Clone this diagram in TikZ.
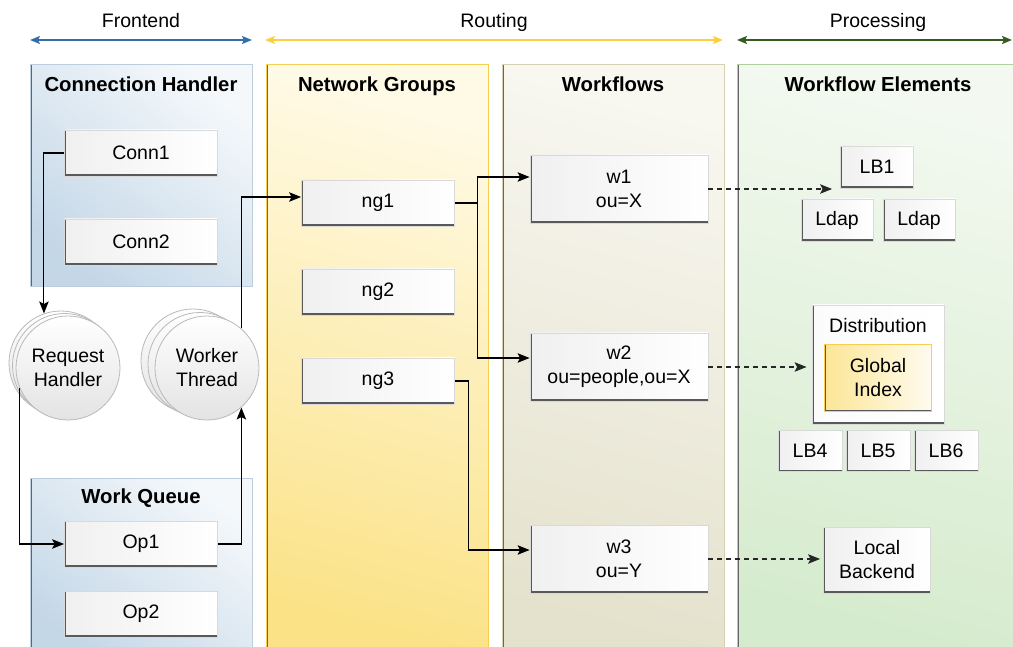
\documentclass[tikz,border=0pt]{standalone}
\usepackage{fontspec}
\setmainfont{Liberation Sans}
\usetikzlibrary{positioning,arrows.meta}
\definecolor{feblue}{RGB}{52,110,168}
\definecolor{rtyellow}{RGB}{250,208,64}
\definecolor{prgreen}{RGB}{52,92,34}
\definecolor{chdark}{RGB}{196,215,231}
\definecolor{chlight}{RGB}{244,248,251}
\definecolor{chline}{RGB}{190,205,222}
\definecolor{ngdark}{RGB}{251,226,134}
\definecolor{nglight}{RGB}{255,250,230}
\definecolor{ngline}{RGB}{246,206,84}
\definecolor{wfdark}{RGB}{228,225,204}
\definecolor{wflight}{RGB}{248,247,240}
\definecolor{wfline}{RGB}{214,208,178}
\definecolor{eldark}{RGB}{213,235,205}
\definecolor{ellight}{RGB}{243,249,240}
\definecolor{elline}{RGB}{176,208,160}
\definecolor{gixyellow}{RGB}{252,230,150}
\tikzstyle{panel}     = [rectangle, inner sep=0pt, line width=1pt, path picture={\draw[line width=3pt,black!60] (path picture bounding box.north west) -- (path picture bounding box.south west);}]
\tikzstyle{title}     = [anchor=base, font=\fontsize{20.3}{24}\selectfont\bfseries]
\tikzstyle{item}      = [rectangle, inner sep=0pt, align=center, draw=gray!30, line width=0.8pt, left color=gray!12, right color=white, path picture={\draw[line width=3.4pt,black!65] (path picture bounding box.north west) -- (path picture bounding box.south west) -- (path picture bounding box.south east);}]
\tikzstyle{worker}    = [circle, inner sep=0pt, minimum size=104pt, align=center, draw=gray!55, line width=0.8pt, top color=white, bottom color=gray!22]
\tikzstyle{arrow}     = [line width=1.1pt,->,>={Stealth[length=12pt,width=9.5pt,inset=2.5pt]}]
\tikzstyle{dasharrow} = [arrow, dash pattern=on 5pt off 4pt, black!85]
\tikzstyle{band}      = [line width=1.8pt,<->,>={Stealth[length=10pt,width=8pt,inset=2pt]}]

\begin{document}
\begin{tikzpicture}[x=1pt,y=-1pt,font=\fontsize{19.5}{24}\selectfont]
	\useasboundingbox (0,0) rectangle (1013,647);

	\node[anchor=base] (frontend) at (141,28) {Frontend};
	\node[anchor=base] (routing) at (494,28) {Routing};
	\node[anchor=base] (processing) at (878,28) {Processing};
	\coordinate (fea) at (30,40);
	\coordinate (feb) at (252,40);
	\coordinate (rta) at (265,40);
	\coordinate (rtb) at (723,40);
	\coordinate (pra) at (737,40);
	\coordinate (prb) at (1012,40);
	\draw[band,feblue] (fea) -- (feb);
	\draw[band,rtyellow] (rta) -- (rtb);
	\draw[band,prgreen] (pra) -- (prb);

	\node[panel, draw=chline, top color=chlight, bottom color=chdark, shading angle=-40, minimum width=222pt, minimum height=222pt] (connh) at (141,176) {};
	\node[panel, draw=chline, top color=chlight, bottom color=chdark, shading angle=-40, minimum width=222pt, minimum height=182pt] (queue) at (141,569) {};
	\node[panel, draw=ngline, top color=nglight, bottom color=ngdark, shading angle=-15, minimum width=222pt, minimum height=600pt] (netgroups) at (377,365) {};
	\node[panel, draw=wfline, top color=wflight, bottom color=wfdark, shading angle=-15, minimum width=222pt, minimum height=600pt] (workflows) at (613,365) {};
	\node[panel, draw=elline, top color=ellight, bottom color=eldark, shading angle=-15, minimum width=290pt, minimum height=600pt] (elements) at (882,365) {};

	\node[title] at ([yshift=-27pt]connh.north) {Connection Handler};
	\node[title] at ([yshift=-26pt]queue.north) {Work Queue};
	\node[title] at ([yshift=-27pt]netgroups.north) {Network Groups};
	\node[title] at ([yshift=-27pt]workflows.north) {Workflows};
	\node[title] at ([yshift=-27pt]elements.north -| 878,0) {Workflow Elements};

	\node[item, minimum width=153pt, minimum height=46pt] (conn1) at (141,153) {Conn1};
	\node[item, minimum width=153pt, minimum height=46pt] (conn2) at (141,242) {Conn2};
	\node[item, minimum width=153pt, minimum height=46pt] (op1) at (141,544) {Op1};
	\node[item, minimum width=153pt, minimum height=46pt] (op2) at (141,614) {Op2};

	\foreach \i in {2,1}
		\node[worker] (rh\i) at ({68-3.5*\i},{368-2.5*\i}) {};
	\node[worker] (rh) at (68,368) {Request\\Handler};
	\foreach \i in {2,1}
		\node[worker] (wt\i) at ({207-7*\i},{368-3.5*\i}) {};
	\node[worker] (wt) at (207,368) {Worker\\Thread};

	\node[item, minimum width=153pt, minimum height=46pt] (ng1) at (378,203) {ng1};
	\node[item, minimum width=153pt, minimum height=46pt] (ng2) at (378,292) {ng2};
	\node[item, minimum width=153pt, minimum height=46pt] (ng3) at (378,381) {ng3};

	\node[item, minimum width=178pt, minimum height=68pt] (w1) at (619,189) {w1\\ou=X};
	\node[item, minimum width=178pt, minimum height=68pt] (w2) at (619,367) {w2\\ou=people,ou=X};
	\node[item, minimum width=178pt, minimum height=68pt] (w3) at (619,559) {w3\\ou=Y};

	\node[item, minimum width=73pt, minimum height=42pt] (lb1) at (877,167) {LB1};
	\node[item, minimum width=72pt, minimum height=42pt] (ldap1) at (837,220) {Ldap};
	\node[item, minimum width=72pt, minimum height=42pt] (ldap2) at (919,220) {Ldap};

	\node[item, left color=white!97!gray, right color=white, minimum width=132pt, minimum height=119pt] (dist) at (878,364.5) {};
	\node[anchor=base] at ([yshift=-28pt]dist.north) {Distribution};
	\node[item, draw=ngline, line width=1.4pt, left color=gixyellow, right color=white!85!gixyellow, minimum width=107pt, minimum height=67pt] (gindex) at (878,378) {Global\\Index};

	\node[item, minimum width=64pt, minimum height=41pt] (lb4) at (810,451) {LB4};
	\node[item, minimum width=64pt, minimum height=41pt] (lb5) at (878,451) {LB5};
	\node[item, minimum width=64pt, minimum height=41pt] (lb6) at (946,451) {LB6};

	\node[item, minimum width=107pt, minimum height=66pt] (lback) at (877,560) {Local\\Backend};

	\draw[arrow] (conn1.west) -| (rh2.109);
	\draw[arrow] (rh.203) |- (op1.west);
	\draw[arrow] (op1.east) -| (wt.311);
	\draw[arrow] (wt.49) |- ([yshift=6pt]ng1.west);
	\draw[line width=2.2pt] (ng1.east) -- ++(23,0) coordinate (split);
	\draw[arrow] (split) |- ([yshift=12pt]w1.west);
	\draw[arrow] (split) |- ([yshift=9pt]w2.west);
	\draw[arrow] (ng3.east) -- ++(14,0) |- ([yshift=9pt]w3.west);

	\draw[dasharrow, shorten >=8pt] (w1.east) -- (w1.east -| lb1.west);
	\draw[dasharrow, shorten >=5pt] (w2.east) -- (w2.east -| dist.west);
	\draw[dasharrow, shorten >=3pt] (w3.east) -- (w3.east -| lback.west);
\end{tikzpicture}
\end{document}
